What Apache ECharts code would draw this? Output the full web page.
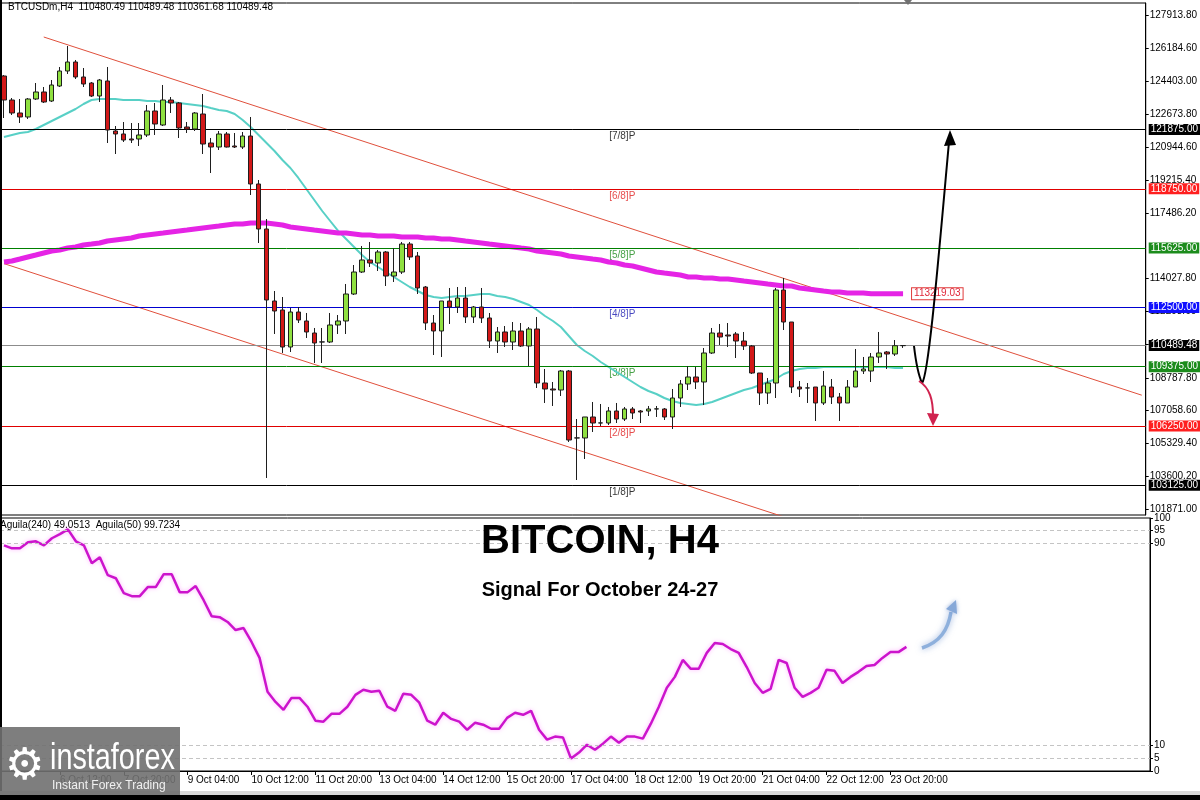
<!DOCTYPE html>
<html><head><meta charset="utf-8">
<script src="https://cdn.jsdelivr.net/npm/echarts@6/dist/echarts.min.js"></script>
<style>html,body{margin:0;padding:0;background:#fff}#c{width:1200px;height:800px}</style>
</head><body><div id="c"></div>
<script>
const symbol = 'BTCUSDm';
const timeframe = 'H4';
const firstBarTime = Date.UTC(2025, 9, 5, 8); // 5 Oct 08:00, H4 bars
const barCount = 144;

const open = [124698,123433,122748,122537,123486,123855,123380,124171,124962,125436,
124646,124329,123644,124435,121799,121641,121377,121377,121588,122853,
122115,123433,123275,122010,121904,122695,121166,120955,121641,121008,
120955,121535,119005,116632,112836,112362,110411,112256,111782,111149,
110675,110675,111571,111782,113205,114365,114998,114840,115420,114154,
114365,115841,115209,113574,111676,111255,112836,112520,112994,111993,
112520,111940,110727,111202,110675,111255,110464,111360,108513,108197,
108144,109146,105614,105614,106721,106404,106404,107037,106615,107143,
107037,107037,107143,107143,106721,107722,108461,108830,108566,110095,
111149,111044,111097,110727,110464,109040,107986,108513,113416,111729,
108302,108250,108302,107459,108302,107775,107459,108302,109146,109146,
109884,110148,110042,110480.49];
const high = [124751,123538,123486,123538,124329,124118,124487,125173,126280,125542,
125120,124382,124540,125173,122062,122273,122220,122220,123169,123275,
124224,123591,123328,122273,122800,123749,121430,121799,121746,121693,
121746,122537,119215,117159,113363,113047,112467,112520,112204,111413,
111413,112204,112098,113733,114734,115736,115947,115525,115472,115630,
115947,115947,115420,113627,112098,112836,113522,113574,113574,112573,
113522,112204,111465,111518,111729,111676,111465,111993,109251,108566,
109199,109199,106615,106721,107512,107406,107248,107459,107248,107248,
107090,107301,107301,107195,108197,108671,109409,109357,110358,111413,
111624,111676,111202,111202,110517,109040,108777,113522,114049,111729,
108619,108513,108302,109146,108724,107986,108671,110306,109884,110095,
111202,110200,110780,110489.48];
const low = [122484,122642,122220,122431,123433,123275,123328,124118,124804,124540,
124118,123591,123328,121166,120586,121219,121166,121008,121482,121588,
122062,122748,121430,121693,121799,120586,119584,120797,120930,120902,
120850,118425,115894,103505,111097,110095,110148,111676,110886,109568,
109568,110622,111097,111097,113153,114312,114629,114418,113627,113838,
114260,114998,113205,111307,109989,109884,111624,112204,111676,111676,
111676,110358,110095,110411,110253,110411,109409,108250,107459,107301,
107828,105403,103399,104507,105930,106246,106299,106404,106510,106615,
106404,106773,106721,106563,106088,107248,108144,108197,107353,110042,
110517,110411,109831,110253,108988,107353,107406,107722,111307,107986,
107775,107459,106510,107353,107406,106510,107459,108302,108988,108566,
109568,109251,109937,110361.68];
const close = [123433,122748,122537,123486,123855,123328,124224,124962,125436,124646,
124277,123644,124487,121851,121641,121324,121324,121588,122853,122168,
123433,123275,121957,121904,122748,121113,120955,121641,120955,120955,
121535,119005,116632,112889,112309,110411,112256,111835,111202,110622,
110680,111571,111782,113205,114365,114998,114840,115420,114154,114365,
115841,115156,113522,111676,111255,112836,112520,112994,111993,112520,
111940,110727,111202,110675,111255,110464,111360,108513,108197,108144,
109146,105508,105620,106721,106404,106410,107037,106615,107143,106932,
106984,107143,107150,106721,107722,108461,108830,108566,110095,111149,
110938,110991,110727,110464,109040,107986,108513,113416,111729,108302,
108197,108255,107459,108355,107775,107459,108302,109146,109251,109884,
110095,110042,110480,110489.48];

const cyanMA = [121482,121588,121693,121746,121904,122115,122326,122537,122748,122959,
123222,123433,123486,123486,123486,123433,123433,123433,123380,123380,
123328,123328,123275,123222,123169,123117,123011,122906,122853,122695,
122379,122010,121588,121166,120744,120270,119848,119321,118741,118161,
117581,117054,116527,116105,115683,115261,114892,114629,114365,114102,
113838,113574,113363,113153,113047,112994,113047,113100,113100,113153,
113205,113205,113100,113047,112942,112783,112625,112362,112046,111782,
111465,110991,110517,110200,109937,109621,109357,109093,108830,108566,
108302,108091,107933,107722,107564,107459,107406,107353,107406,107512,
107670,107828,107986,108144,108250,108408,108566,108724,108988,109146,
109251,109304,109304,109357,109357,109357,109357,109357,109357,109357,
109357,109357,109304,109304];
const magentaMA = [114892,114945,115050,115156,115261,115367,115472,115525,115630,115683,
115789,115841,115894,115999,116052,116105,116158,116263,116316,116369,
116421,116474,116527,116579,116632,116685,116738,116790,116843,116896,
116896,116949,116949,116949,116896,116843,116738,116685,116632,116579,
116527,116474,116421,116421,116369,116316,116316,116263,116263,116263,
116210,116210,116210,116158,116158,116105,116105,116052,115999,115947,
115894,115841,115789,115736,115683,115630,115578,115472,115420,115367,
115314,115209,115156,115103,115050,114998,114892,114840,114734,114681,
114576,114471,114365,114312,114260,114207,114102,114102,114049,114049,
113996,113996,113943,113890,113838,113785,113732,113680,113627,113627,
113522,113469,113416,113363,113311,113311,113258,113258,113258,113219,
113219,113219,113219,113219.03];
const aguila240 = [89.2,88.0,88.0,90.4,90.8,89.2,92.0,93.6,95.5,90.8,
89.2,82.1,84.5,77.4,76.2,70.3,69.1,69.1,72.7,72.7,
77.8,77.8,70.7,70.7,73.1,67.5,61.2,60.8,58.9,55.7,
56.5,51.0,44.7,31.3,27.3,24.2,28.9,28.9,25.4,19.9,
19.5,22.6,22.6,25.4,30.1,32.1,31.3,31.7,25.4,23.8,
30.5,30.1,27.0,19.9,18.3,23.0,20.6,19.5,16.3,19.1,
18.3,16.7,16.7,21.0,23.0,22.2,23.8,16.3,12.4,13.6,
13.2,4.9,7.3,10.4,8.4,10.8,13.6,11.2,13.6,13.6,
12.8,18.7,25.4,32.9,37.2,43.9,40.4,40.4,46.7,50.6,
50.2,48.2,46.7,41.1,34.8,30.9,32.5,43.9,42.7,32.9,
29.3,30.9,32.9,40.0,39.6,34.8,37.2,39.2,41.5,41.9,
44.7,47.0,47.0,49.0513];
const aguila50Last = 99.7234;

const upperChannel = [[5, 126754], [143, 107870]];
const lowerChannel = [[0, 114808], [100, 101185]];

const levelValues = [121875, 118750, 115625, 112500, 109375, 106250, 103125];
const levelNames = ['[7/8]P', '[6/8]P', '[5/8]P', '[4/8]P', '[3/8]P', '[2/8]P', '[1/8]P'];
const priceTicks = [127913.8, 126184.6, 124403.0, 122673.8, 120944.6, 119215.4, 117486.2,
  114027.8, 112298.6, 110569.4, 108787.8, 107058.6, 105329.4, 103600.2, 101871.0];
const oscTicks = [0, 5, 10, 90, 95, 100];
const oscLevels = [95, 90, 10, 5];

// ---- styles ----
const FONT = '"Liberation Sans", Arial, sans-serif';
const levelLineColors = ['#000000', '#e00000', '#008000', '#0000d0', '#008000', '#e00000', '#000000'];
const levelBoxColors = ['#000000', '#ff1f1f', '#1c8c1c', '#1010ff', '#1c8c1c', '#ff1f1f', '#000000'];
const levelTextColors = ['#000000', '#e02020', '#1a8a1a', '#1a1ab0', '#1a8a1a', '#e02020', '#000000'];
const levelTextBar = 76;
const firstLabelBar = 23, lastLabelBar = 111;

const M = ['Jan','Feb','Mar','Apr','May','Jun','Jul','Aug','Sep','Oct','Nov','Dec'];
const pad = n => (n < 10 ? '0' : '') + n;
const categories = [];
for (let i = 0; i < barCount; i++) {
  const d = new Date(firstBarTime + i * 4 * 3600 * 1000);
  categories.push(d.getUTCDate() + ' ' + M[d.getUTCMonth()] + ' ' + pad(d.getUTCHours()) + ':' + pad(d.getUTCMinutes()));
}
const labelShown = i => i <= lastLabelBar && ((i - firstLabelBar) % 8 === 0);
const candles = open.map((o, i) => [o, close[i], low[i], high[i]]);
const lastIdx = close.length - 1;
const lastPrice = close[lastIdx];

const chart = echarts.init(document.getElementById('c'), null, {renderer: 'canvas'});

const levelMarks = levelValues.map((v, k) => ({
  yAxis: v,
  lineStyle: {color: levelLineColors[k], width: 1, type: 'solid'},
  label: {show: true, position: 'end', formatter: v.toFixed(2), color: '#fff',
    backgroundColor: levelBoxColors[k], padding: [1, 2, 0, 2], fontSize: 10, fontFamily: FONT, distance: 3}
}));
levelMarks.push({
  yAxis: lastPrice,
  lineStyle: {color: '#8c8c8c', width: 1, type: 'solid'},
  label: {show: true, position: 'end', formatter: lastPrice.toFixed(2), color: '#fff',
    backgroundColor: '#000', padding: [1, 2, 0, 2], fontSize: 10, fontFamily: FONT, distance: 3}
});

const option = {
  animation: false,
  backgroundColor: '#ffffff',
  textStyle: {fontFamily: FONT},
  grid: [
    {left: -2, top: 3, width: 1152, height: 512, show: true, borderColor: '#000', borderWidth: 1, backgroundColor: '#fff'},
    {left: -2, top: 518, width: 1152, height: 253, show: true, borderColor: '#000', borderWidth: 1, backgroundColor: '#fff'}
  ],
  xAxis: [
    {type: 'category', gridIndex: 0, data: categories, boundaryGap: true,
      axisLine: {show: false}, axisTick: {show: false}, axisLabel: {show: false}, splitLine: {show: false}},
    {type: 'category', gridIndex: 1, data: categories, boundaryGap: true,
      axisLine: {show: true, lineStyle: {color: '#000'}},
      axisTick: {show: true, alignWithLabel: true, interval: (i) => labelShown(i), length: 4, lineStyle: {color: '#000'}},
      axisLabel: {interval: (i) => labelShown(i), align: 'left', fontSize: 10, color: '#000', margin: 4, fontFamily: FONT},
      splitLine: {show: false}}
  ],
  yAxis: [
    {type: 'value', gridIndex: 0, position: 'right', min: 101554, max: 128547,
      axisLine: {show: true, lineStyle: {color: '#000'}},
      axisTick: {show: true, customValues: priceTicks, length: 3, lineStyle: {color: '#000'}},
      axisLabel: {customValues: priceTicks, formatter: v => v.toFixed(2), fontSize: 10, color: '#000', margin: 4, fontFamily: FONT},
      splitLine: {show: false}},
    {type: 'value', gridIndex: 1, position: 'right', min: 0, max: 100,
      axisLine: {show: true, lineStyle: {color: '#000'}},
      axisTick: {show: true, customValues: oscTicks, length: 3, lineStyle: {color: '#000'}},
      axisLabel: {customValues: oscTicks, fontSize: 10, color: '#000', margin: 4, fontFamily: FONT},
      splitLine: {show: false}}
  ],
  series: [
    {name: 'lower channel', type: 'line', xAxisIndex: 0, yAxisIndex: 0, data: lowerChannel, symbol: 'none',
      lineStyle: {color: '#e0503c', width: 1}, z: 2, silent: true,
      markLine: {silent: true, symbol: ['none', 'none'], animation: false, data: levelMarks}},
    {name: 'upper channel', type: 'line', xAxisIndex: 0, yAxisIndex: 0, data: upperChannel, symbol: 'none',
      lineStyle: {color: '#e0503c', width: 1}, z: 2, silent: true},
    {name: 'levels text', type: 'scatter', xAxisIndex: 0, yAxisIndex: 0, symbol: 'circle', symbolSize: 1,
      itemStyle: {color: 'rgba(0,0,0,0)'}, silent: true, z: 3,
      data: levelValues.map((v, k) => ({value: [levelTextBar, v], label: {color: levelTextColors[k]}})),
      label: {show: true, position: 'right', distance: 0, offset: [0, 7], fontSize: 10, fontFamily: FONT,
        formatter: p => levelNames[p.dataIndex]}},
    {name: 'MA fast', type: 'line', xAxisIndex: 0, yAxisIndex: 0, data: cyanMA, symbol: 'none',
      lineStyle: {color: '#58d0c6', width: 2}, z: 4, silent: true},
    {name: 'MA 200', type: 'line', xAxisIndex: 0, yAxisIndex: 0, data: magentaMA, symbol: 'none',
      lineStyle: {color: '#e524e5', width: 5}, z: 4, silent: true,
      endLabel: {show: true, formatter: () => magentaMA[magentaMA.length - 1].toFixed(2), color: '#e0283a',
        backgroundColor: '#fff', borderColor: '#e03a3a', borderWidth: 1, padding: [1, 2, 0, 2], fontSize: 10,
        fontFamily: FONT, distance: 9}},
    {name: symbol, type: 'candlestick', xAxisIndex: 0, yAxisIndex: 0, data: candles, barWidth: 5, z: 5, silent: true,
      itemStyle: {color: '#8fe040', color0: '#d21818', borderColor: '#1e1e1e', borderColor0: '#1e1e1e', borderWidth: 1}},
    {name: 'Aguila(240)', type: 'line', xAxisIndex: 1, yAxisIndex: 1, data: aguila240, symbol: 'none', silent: true,
      lineStyle: {color: '#cc14cc', width: 2.5, shadowColor: 'rgba(255,120,255,0.55)', shadowBlur: 4}, z: 3,
      markLine: {silent: true, symbol: ['none', 'none'], animation: false, label: {show: false},
        lineStyle: {color: '#c4c4c4', type: [4, 3], width: 1},
        data: oscLevels.map(v => ({yAxis: v}))}}
  ],
  graphic: [
    {type: 'text', left: 8, top: 2, z: 50, style: {
      text: symbol + ',' + timeframe + '  ' + open[lastIdx].toFixed(2) + ' ' + high[lastIdx].toFixed(2) + ' ' + low[lastIdx].toFixed(2) + ' ' + close[lastIdx].toFixed(2),
      font: '10px ' + FONT, fill: '#000'}},
    {type: 'text', left: 0, top: 520, z: 50, style: {
      text: 'Aguila(240) ' + aguila240[lastIdx].toFixed(4) + '  Aguila(50) ' + aguila50Last.toFixed(4),
      font: '10px ' + FONT, fill: '#000'}},
    {type: 'text', x: 600, y: 542, z: 50, style: {text: 'BITCOIN, H4', font: 'bold 40px ' + FONT, fill: '#000',
      align: 'center', verticalAlign: 'middle', textAlign: 'center', textVerticalAlign: 'middle'}},
    {type: 'text', x: 600, y: 590, z: 50, style: {text: 'Signal For October 24-27', font: 'bold 20px ' + FONT, fill: '#000',
      align: 'center', verticalAlign: 'middle', textAlign: 'center', textVerticalAlign: 'middle'}},
    // annotation arrows
    {type: 'bezierCurve', z: 40, shape: {x1: 914, y1: 346, cpx1: 917, cpy1: 372, x2: 922, y2: 383},
      style: {stroke: '#000', lineWidth: 2, fill: null}},
    {type: 'bezierCurve', z: 40, shape: {x1: 922, y1: 383, cpx1: 929, cpy1: 376, cpx2: 940, cpy2: 240, x2: 949, y2: 142},
      style: {stroke: '#000', lineWidth: 2, fill: null}},
    {type: 'polygon', z: 40, shape: {points: [[950, 130], [944, 146], [956, 145]]}, style: {fill: '#000'}},
    {type: 'bezierCurve', z: 40, shape: {x1: 919, y1: 381, cpx1: 930, cpy1: 388, cpx2: 933, cpy2: 400, x2: 933, y2: 416},
      style: {stroke: '#d0234f', lineWidth: 2, fill: null}},
    {type: 'polygon', z: 40, shape: {points: [[933, 426], [927, 413], [939, 414]]}, style: {fill: '#d0234f'}},
    {type: 'bezierCurve', z: 40, shape: {x1: 922, y1: 648, cpx1: 940, cpy1: 642, cpx2: 948, cpy2: 630, x2: 951, y2: 612},
      style: {stroke: '#8eb0dc', lineWidth: 3.5, fill: null, shadowBlur: 6, shadowColor: 'rgba(90,130,200,0.6)'}},
    {type: 'polygon', z: 40, shape: {points: [[956, 600], [946, 609], [957, 614]]},
      style: {fill: '#86a8d8', shadowBlur: 4, shadowColor: 'rgba(90,130,200,0.6)'}},
    // top shift marker
    {type: 'polygon', z: 40, shape: {points: [[904, 0], [912, 0], [908, 5]]}, style: {fill: '#707070'}},
    // frame
    {type: 'rect', z: 60, shape: {x: 0, y: 0, width: 2, height: 800}, style: {fill: '#000'}},
    {type: 'rect', z: 60, shape: {x: 0, y: 791, width: 1200, height: 4}, style: {fill: '#d8d8d8'}},
    {type: 'rect', z: 60, shape: {x: 0, y: 795, width: 1200, height: 5}, style: {fill: '#000'}},
    // logo
    {type: 'rect', z: 70, shape: {x: 0, y: 727, width: 180, height: 68}, style: {fill: 'rgba(112,112,112,0.9)'}},
    {type: 'text', z: 71, x: 5, y: 746, style: {text: '\u2699', font: '44px "DejaVu Sans"', fill: '#fff'}},
    {type: 'text', z: 71, x: 50, y: 741, scaleX: 0.8, style: {text: 'instaforex', font: '36px ' + FONT, fill: '#fff'}},
    {type: 'text', z: 71, x: 52, y: 780, style: {text: 'Instant Forex Trading', font: '12px ' + FONT, fill: '#f0f0f0'}}
  ]
};
chart.setOption(option);
</script>
</body></html>
